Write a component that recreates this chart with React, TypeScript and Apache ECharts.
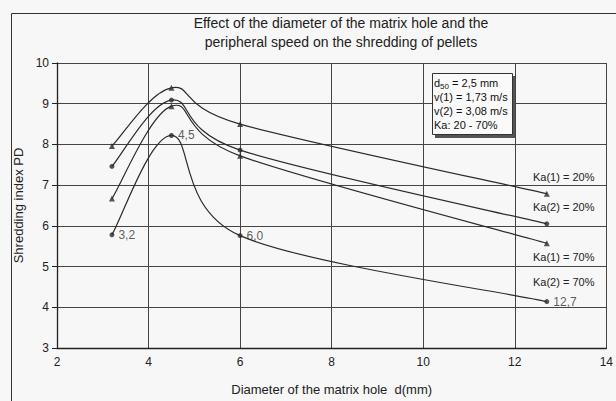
import React, { useEffect, useRef } from "react";
import * as echarts from "echarts";

// Hole diameters d (mm) at which pellets were tested
const diameters = [3.2, 4.5, 6.0, 12.7];

// Shredding index PD for each peripheral speed / Ka combination
const ka1_20 = [7.96, 9.39, 8.5, 6.79];
const ka2_20 = [7.46, 9.09, 7.86, 6.05];
const ka1_70 = [6.67, 8.94, 7.72, 5.57];
const ka2_70 = [5.78, 8.22, 5.76, 4.14];

// Point labels on the lowest curve (diameter, decimal comma)
const pointLabels = ["3,2", "4,5", "6,0", "12,7"];

const xTicks = { min: 2, max: 14, interval: 2 };
const yTicks = { min: 3, max: 10, interval: 1 };

const curveLabels = ["Ka(1) = 20%", "Ka(2) = 20%", "Ka(1) = 70%", "Ka(2) = 70%"];

const INK = "#2a2a2a";
const FONT = "'Liberation Sans', Arial, sans-serif";

// Smooth curve through the points (Catmull-Rom converted to cubic Bezier segments)
function smoothCurve(name: string, ys: number[]) {
  return {
    name,
    type: "custom",
    data: diameters.map((x, i) => [x, ys[i]]),
    encode: { x: 0, y: 1 },
    silent: true,
    z: 3,
    renderItem: (params: any, api: any) => {
      const i = params.dataIndex;
      const n = diameters.length;
      if (i >= n - 1) return null;
      const pt = (k: number) => {
        const j = Math.max(0, Math.min(n - 1, k));
        return api.coord([diameters[j], ys[j]]);
      };
      const p0 = pt(i - 1);
      const p1 = pt(i);
      const p2 = pt(i + 1);
      const p3 = pt(i + 2);
      const c1 = [p1[0] + (p2[0] - p0[0]) / 6, p1[1] + (p2[1] - p0[1]) / 6];
      const c2 = [p2[0] - (p3[0] - p1[0]) / 6, p2[1] - (p3[1] - p1[1]) / 6];
      const d = `M${p1[0]},${p1[1]} C${c1[0]},${c1[1]} ${c2[0]},${c2[1]} ${p2[0]},${p2[1]}`;
      return {
        type: "path",
        shape: { pathData: d },
        style: { fill: "none", stroke: INK, lineWidth: 1.2 },
      };
    },
  };
}

function markers(name: string, ys: number[], symbol: string, size: number, labels?: string[]) {
  return {
    name,
    type: "scatter",
    data: diameters.map((x, i) => [x, ys[i]]),
    symbol,
    symbolSize: size,
    itemStyle: { color: INK },
    z: 4,
    label: labels
      ? {
          show: true,
          position: "right",
          distance: 4,
          formatter: (p: any) => labels[p.dataIndex],
          color: "#333",
          fontSize: 12,
          fontFamily: FONT,
        }
      : { show: false },
  };
}

export default function App() {
  const ref = useRef<HTMLDivElement>(null);

  useEffect(() => {
    if (!ref.current) return;
    const chart = echarts.init(ref.current, null, { renderer: "svg" });

    const labelStyle = { fontSize: 11, fontFamily: FONT, fill: "#222" };

    chart.setOption({
      animation: false,
      backgroundColor: "#f7f7f7",
      textStyle: { fontFamily: FONT },
      grid: { left: 57, right: 3, top: 63, bottom: 48 },
      xAxis: {
        type: "value",
        ...xTicks,
        name: "Diameter of the matrix hole  d(mm)",
        nameLocation: "middle",
        nameGap: 35,
        nameTextStyle: { fontSize: 13, color: "#222", fontFamily: FONT },
        axisLine: { show: true, lineStyle: { color: "#222", width: 1.3 } },
        axisTick: { show: false },
        axisLabel: { fontSize: 12, color: "#222", margin: 8, fontFamily: FONT },
        splitLine: { show: true, lineStyle: { color: "#444", width: 1 } },
      },
      yAxis: {
        type: "value",
        ...yTicks,
        name: "Shredding index PD",
        nameLocation: "middle",
        nameRotate: 90,
        nameGap: 27,
        nameTextStyle: { fontSize: 13, color: "#222", fontFamily: FONT },
        axisLine: { show: true, lineStyle: { color: "#222", width: 1.3 } },
        axisTick: { show: true, length: 5, lineStyle: { color: "#222" } },
        axisLabel: { fontSize: 12, color: "#222", margin: 8, fontFamily: FONT },
        splitLine: { show: true, lineStyle: { color: "#444", width: 1 } },
      },
      series: [
        smoothCurve("Ka(1) = 20%", ka1_20),
        smoothCurve("Ka(2) = 20%", ka2_20),
        smoothCurve("Ka(1) = 70%", ka1_70),
        smoothCurve("Ka(2) = 70%", ka2_70),
        markers("Ka(1) = 20% pts", ka1_20, "triangle", 6),
        markers("Ka(2) = 20% pts", ka2_20, "circle", 5),
        markers("Ka(1) = 70% pts", ka1_70, "triangle", 6),
        markers("Ka(2) = 70% pts", ka2_70, "circle", 5, pointLabels),
      ],
      graphic: [
        {
          type: "rect",
          silent: true,
          shape: { x: 11.5, y: 13.5, width: 700, height: 500 },
          style: { fill: "none", stroke: "#333", lineWidth: 1 },
        },
        {
          type: "text",
          silent: true,
          style: {
            text: "Effect of the diameter of the matrix hole and the\nperipheral speed on the shredding of pellets",
            x: 341,
            y: 13,
            align: "center",
            verticalAlign: "top",
            fontSize: 14,
            lineHeight: 19,
            fontFamily: FONT,
            fill: "#222",
          },
        },
        // parameter box with drop shadow
        {
          type: "rect",
          silent: true,
          z: 10,
          shape: { x: 435, y: 76, width: 80, height: 62 },
          style: { fill: "#555", stroke: "none" },
        },
        {
          type: "rect",
          silent: true,
          z: 11,
          shape: { x: 432.5, y: 73.5, width: 80, height: 61 },
          style: { fill: "#fafafa", stroke: "#333", lineWidth: 1 },
        },
        {
          type: "text",
          silent: true,
          z: 12,
          style: {
            x: 434,
            y: 76,
            verticalAlign: "top",
            text:
              "{n|d}{sub|50}{n| = 2,5 mm}\n{n|v(1) = 1,73 m/s}\n{n|v(2) = 3,08 m/s}\n{n|Ka: 20 - 70%}",
            rich: {
              n: { fontSize: 11, lineHeight: 14, fontFamily: FONT, fill: "#111", verticalAlign: "middle" },
              sub: { fontSize: 8, lineHeight: 10, fontFamily: FONT, fill: "#111", verticalAlign: "bottom" },
            },
          },
        },
        ...curveLabels.map((t, i) => ({
          type: "text",
          silent: true,
          style: {
            ...labelStyle,
            text: t,
            x: 533,
            y: [177, 207, 257, 282][i],
            verticalAlign: "middle",
          },
        })),
      ],
    });

    return () => chart.dispose();
  }, []);

  return (
    <div
      ref={ref}
      style={{ position: "fixed", left: 0, top: 0, width: 616, height: 401 }}
    />
  );
}
